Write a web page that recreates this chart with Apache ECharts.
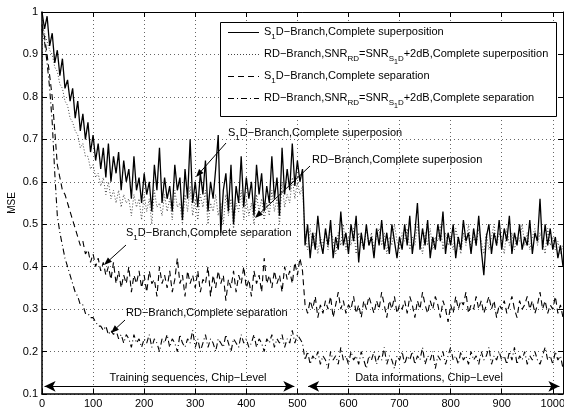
<!DOCTYPE html>
<html>
<head>
<meta charset="UTF-8" />
<title>MSE</title>
<style>
* { margin: 0; padding: 0; }
html, body { background: #fff; }
#main { width: 564px; height: 411px; }
</style>
</head>
<body>
<div id="main"></div>
<script src="https://cdn.jsdelivr.net/npm/echarts@6/dist/echarts.min.js"></script>
<script>
// one sample every 5 chips
const xStep = 5

// S1D-Branch, complete superposition (solid)
const s1dSuper = [
  1.00, 0.96, 0.99, 0.92, 0.95, 0.88, 0.91, 0.85, 0.89, 0.82,
  0.84, 0.79, 0.82, 0.75, 0.79, 0.72, 0.76, 0.70, 0.74, 0.67,
  0.71, 0.65, 0.69, 0.63, 0.68, 0.61, 0.69, 0.60, 0.66, 0.62,
  0.67, 0.58, 0.65, 0.60, 0.63, 0.56, 0.66, 0.58, 0.61, 0.55,
  0.62, 0.57, 0.60, 0.53, 0.64, 0.58, 0.68, 0.55, 0.61, 0.56,
  0.59, 0.53, 0.64, 0.58, 0.61, 0.51, 0.63, 0.56, 0.70, 0.55,
  0.60, 0.54, 0.62, 0.57, 0.65, 0.53, 0.60, 0.56, 0.63, 0.71,
  0.48, 0.58, 0.62, 0.53, 0.64, 0.50, 0.59, 0.55, 0.66, 0.54,
  0.61, 0.56, 0.60, 0.52, 0.64, 0.57, 0.62, 0.53, 0.59, 0.55,
  0.66, 0.56, 0.61, 0.52, 0.68, 0.57, 0.63, 0.58, 0.69, 0.59,
  0.65, 0.60, 0.63, 0.45, 0.50, 0.42, 0.48, 0.44, 0.52, 0.46,
  0.43, 0.49, 0.45, 0.51, 0.42, 0.47, 0.44, 0.53, 0.45, 0.48,
  0.43, 0.50, 0.46, 0.52, 0.41, 0.48, 0.44, 0.50, 0.45, 0.47,
  0.42, 0.49, 0.45, 0.51, 0.44, 0.48, 0.43, 0.50, 0.46, 0.42,
  0.47, 0.44, 0.50, 0.45, 0.52, 0.43, 0.48, 0.55, 0.44, 0.49,
  0.45, 0.51, 0.42, 0.47, 0.44, 0.50, 0.46, 0.53, 0.43, 0.48,
  0.45, 0.50, 0.42, 0.47, 0.44, 0.51, 0.46, 0.48, 0.43, 0.49,
  0.45, 0.52, 0.44, 0.38, 0.47, 0.50, 0.43, 0.48, 0.45, 0.51,
  0.44, 0.49, 0.46, 0.52, 0.43, 0.48, 0.45, 0.50, 0.44, 0.47,
  0.45, 0.51, 0.43, 0.48, 0.46, 0.56, 0.44, 0.50, 0.45, 0.49,
  0.44, 0.47, 0.42, 0.45, 0.40
]

// RD-Branch, SNR_RD = SNR_S1D + 2dB, complete superposition (dotted)
const rdSuper = [
  0.97, 0.95, 0.93, 0.91, 0.90, 0.87, 0.86, 0.83, 0.82, 0.79,
  0.78, 0.75, 0.74, 0.72, 0.71, 0.68, 0.69, 0.66, 0.66, 0.63,
  0.64, 0.61, 0.62, 0.59, 0.61, 0.57, 0.60, 0.56, 0.58, 0.55,
  0.58, 0.54, 0.57, 0.55, 0.56, 0.52, 0.57, 0.54, 0.56, 0.51,
  0.57, 0.53, 0.56, 0.50, 0.58, 0.54, 0.55, 0.52, 0.57, 0.53,
  0.56, 0.51, 0.58, 0.54, 0.55, 0.50, 0.57, 0.53, 0.59, 0.52,
  0.56, 0.51, 0.57, 0.54, 0.58, 0.50, 0.55, 0.53, 0.57, 0.52,
  0.55, 0.50, 0.57, 0.52, 0.56, 0.49, 0.55, 0.53, 0.58, 0.51,
  0.56, 0.52, 0.55, 0.50, 0.57, 0.53, 0.56, 0.51, 0.55, 0.52,
  0.58, 0.53, 0.56, 0.50, 0.60, 0.54, 0.57, 0.55, 0.61, 0.56,
  0.60, 0.57, 0.59, 0.47, 0.44, 0.49, 0.45, 0.48, 0.43, 0.47,
  0.45, 0.48, 0.44, 0.49, 0.46, 0.43, 0.48, 0.45, 0.50, 0.44,
  0.47, 0.45, 0.49, 0.43, 0.48, 0.46, 0.44, 0.49, 0.45, 0.48,
  0.44, 0.47, 0.49, 0.45, 0.48, 0.43, 0.47, 0.45, 0.50, 0.46,
  0.44, 0.48, 0.46, 0.49, 0.44, 0.47, 0.45, 0.50, 0.46, 0.43,
  0.48, 0.45, 0.49, 0.44, 0.47, 0.46, 0.50, 0.44, 0.48, 0.45,
  0.47, 0.44, 0.49, 0.46, 0.43, 0.48, 0.45, 0.50, 0.44, 0.47,
  0.45, 0.49, 0.46, 0.43, 0.48, 0.44, 0.47, 0.50, 0.45, 0.48,
  0.46, 0.43, 0.49, 0.45, 0.48, 0.44, 0.47, 0.46, 0.50, 0.45,
  0.48, 0.44, 0.47, 0.49, 0.45, 0.48, 0.46, 0.43, 0.49, 0.45,
  0.47, 0.44, 0.46, 0.43, 0.45
]

// S1D-Branch, complete separation (dashed)
const s1dSep = [
  0.97, 0.94, 0.90, 0.85, 0.80, 0.72, 0.64, 0.61, 0.58, 0.57,
  0.55, 0.53, 0.51, 0.49, 0.47, 0.45, 0.46, 0.43, 0.44, 0.41,
  0.43, 0.40, 0.42, 0.39, 0.41, 0.38, 0.40, 0.37, 0.41, 0.36,
  0.39, 0.35, 0.38, 0.36, 0.40, 0.34, 0.38, 0.36, 0.39, 0.35,
  0.38, 0.34, 0.39, 0.36, 0.37, 0.33, 0.40, 0.36, 0.38, 0.35,
  0.39, 0.34, 0.37, 0.42, 0.36, 0.38, 0.33, 0.39, 0.36, 0.38,
  0.35, 0.39, 0.34, 0.37, 0.36, 0.40, 0.33, 0.38, 0.35, 0.39,
  0.36, 0.38, 0.32, 0.37, 0.35, 0.39, 0.34, 0.38, 0.36, 0.40,
  0.35, 0.37, 0.33, 0.39, 0.36, 0.38, 0.34, 0.42, 0.36, 0.38,
  0.35, 0.39, 0.36, 0.38, 0.34, 0.40, 0.37, 0.39, 0.36, 0.41,
  0.38, 0.42, 0.39, 0.31, 0.29, 0.32, 0.30, 0.33, 0.28, 0.31,
  0.29, 0.32, 0.30, 0.33, 0.28, 0.31, 0.34, 0.30, 0.32, 0.29,
  0.31, 0.30, 0.33, 0.29, 0.31, 0.28, 0.32, 0.30, 0.33, 0.31,
  0.29, 0.32, 0.30, 0.34, 0.31, 0.28, 0.32, 0.30, 0.33, 0.29,
  0.31, 0.30, 0.32, 0.29, 0.33, 0.31, 0.28, 0.32, 0.30, 0.34,
  0.31, 0.29, 0.32, 0.30, 0.33, 0.31, 0.28, 0.32, 0.30, 0.27,
  0.31, 0.29, 0.33, 0.30, 0.32, 0.31, 0.34, 0.29, 0.31, 0.30,
  0.33, 0.30, 0.32, 0.29, 0.31, 0.33, 0.30, 0.32, 0.28, 0.31,
  0.30, 0.32, 0.29, 0.31, 0.33, 0.30, 0.28, 0.32, 0.30, 0.31,
  0.33, 0.30, 0.32, 0.29, 0.31, 0.34, 0.30, 0.32, 0.29, 0.31,
  0.30, 0.33, 0.29, 0.31, 0.28
]

// RD-Branch, SNR_RD = SNR_S1D + 2dB, complete separation (dash-dot)
const rdSep = [
  0.96, 0.93, 0.88, 0.82, 0.74, 0.62, 0.52, 0.48, 0.45, 0.42,
  0.40, 0.38, 0.36, 0.34, 0.33, 0.31, 0.31, 0.29, 0.29, 0.28,
  0.28, 0.27, 0.26, 0.26, 0.25, 0.26, 0.24, 0.25, 0.24, 0.25,
  0.23, 0.24, 0.22, 0.24, 0.23, 0.21, 0.24, 0.22, 0.23, 0.21,
  0.23, 0.22, 0.24, 0.21, 0.23, 0.22, 0.20, 0.23, 0.22, 0.24,
  0.21, 0.23, 0.22, 0.20, 0.24, 0.22, 0.21, 0.23, 0.22, 0.25,
  0.21, 0.23, 0.20, 0.22, 0.24, 0.21, 0.23, 0.22, 0.20, 0.23,
  0.22, 0.21, 0.24, 0.22, 0.20, 0.23, 0.22, 0.21, 0.24, 0.22,
  0.23, 0.21, 0.22, 0.24, 0.21, 0.23, 0.22, 0.20, 0.23, 0.22,
  0.24, 0.21, 0.23, 0.22, 0.24, 0.21, 0.23, 0.22, 0.25, 0.22,
  0.24, 0.23, 0.22, 0.18, 0.20, 0.17, 0.19, 0.18, 0.20, 0.17,
  0.19, 0.18, 0.16, 0.20, 0.18, 0.19, 0.17, 0.21, 0.18, 0.19,
  0.17, 0.20, 0.18, 0.19, 0.17, 0.20, 0.18, 0.16, 0.19, 0.18,
  0.20, 0.17, 0.19, 0.18, 0.21, 0.17, 0.19, 0.18, 0.16, 0.19,
  0.18, 0.20, 0.17, 0.19, 0.18, 0.20, 0.17, 0.19, 0.18, 0.21,
  0.17, 0.19, 0.18, 0.20, 0.16, 0.19, 0.18, 0.20, 0.17, 0.19,
  0.21, 0.18, 0.19, 0.17, 0.20, 0.18, 0.19, 0.17, 0.20, 0.18,
  0.19, 0.17, 0.20, 0.18, 0.19, 0.21, 0.17, 0.19, 0.18, 0.20,
  0.18, 0.19, 0.17, 0.20, 0.18, 0.21, 0.17, 0.19, 0.18, 0.20,
  0.17, 0.19, 0.18, 0.20, 0.18, 0.17, 0.19, 0.21, 0.18, 0.19,
  0.17, 0.20, 0.18, 0.19, 0.16
]

const xMax = 1020
const xTicks = 100
const yMin = 0.1, yMax = 1, yTicks = 0.1

const legendNames = [
  '{n|S}{s|1}{n|D\u2212Branch,Complete superposition}',
  '{n|RD\u2212Branch,SNR}{s|RD}{n|=SNR}{s|S}{ss|1}{s|D}{n|+2dB,Complete superposition}',
  '{n|S}{s|1}{n|D\u2212Branch,Complete separation}',
  '{n|RD\u2212Branch,SNR}{s|RD}{n|=SNR}{s|S}{ss|1}{s|D}{n|+2dB,Complete separation}'
]

const FONT = '"Liberation Sans", Arial, Helvetica, sans-serif'

const rich = {
  n: { fontSize: 11, fontFamily: FONT, color: '#000', verticalAlign: 'top' },
  s: { fontSize: 8, fontFamily: FONT, color: '#000', verticalAlign: 'top', padding: [6, 0, 0, 0] },
  ss: { fontSize: 7, fontFamily: FONT, color: '#000', verticalAlign: 'top', padding: [10, 0, 0, 0] }
}

function pairs(arr) {
  return arr.map((v, i) => [i * xStep, v])
}

// rich text whose normal-size letters are centred on cy
function label(txt, x, cy) {
  return { type: 'text', z: 100, style: { text: txt, rich: rich, x: x, y: cy - 5.5, verticalAlign: 'top', align: 'left' } }
}

// pointer line with a small filled head at (x2, y2)
function pointer(x1, y1, x2, y2) {
  let a = Math.atan2(y2 - y1, x2 - x1)
  let L = 8, W = 3
  let bx = x2 - L * Math.cos(a), by = y2 - L * Math.sin(a)
  return [
    { type: 'line', z: 100, shape: { x1: x1, y1: y1, x2: bx, y2: by }, style: { stroke: '#000', lineWidth: 1 } },
    { type: 'polygon', z: 100, shape: { points: [[x2, y2], [bx + W * Math.sin(a), by - W * Math.cos(a)], [bx - W * Math.sin(a), by + W * Math.cos(a)]] }, style: { fill: '#000' } }
  ]
}

const dashes = [null, [1, 2], [6, 4], [6, 3, 1, 3]]
const colors = ['#000', '#444', '#000', '#000']

let legendEls = [
  { type: 'rect', z: 100, shape: { x: 220.5, y: 22.5, width: 336, height: 94 }, style: { fill: '#fff', stroke: '#000', lineWidth: 1 } }
]
let rowsY = [32, 54, 76, 98]
for (let i = 0; i < 4; i++) {
  legendEls.push({ type: 'line', z: 101, shape: { x1: 228, y1: rowsY[i] + 0.5, x2: 259, y2: rowsY[i] + 0.5 },
    style: { stroke: colors[i], lineWidth: 1, lineDash: dashes[i] } })
  let t = label(legendNames[i], 264, rowsY[i])
  t.z = 101
  legendEls.push(t)
}

let notes = [
  label('{n|S}{s|1}{n|D\u2212Branch,Complete superposion}', 228, 133),
  label('{n|RD\u2212Branch,Complete superposion}', 312, 160),
  label('{n|S}{s|1}{n|D\u2212Branch,Complete separation}', 126, 233),
  label('{n|RD\u2212Branch,Complete separation}', 126, 313),
  { type: 'text', z: 100, style: { text: 'Training sequences, Chip\u2212Level', x: 188, y: 378, align: 'center', verticalAlign: 'middle', font: '11px ' + FONT, fill: '#000' } },
  { type: 'text', z: 100, style: { text: 'Data informations, Chip\u2212Level', x: 429, y: 378, align: 'center', verticalAlign: 'middle', font: '11px ' + FONT, fill: '#000' } }
]
  .concat(pointer(226, 143, 196, 177))
  .concat(pointer(310, 166, 255, 218))
  .concat(pointer(126, 245, 104, 265))
  .concat(pointer(125, 320, 111, 333))

let chart = echarts.init(document.getElementById('main'), null, { renderer: 'canvas' })

let axisBase = {
  type: 'value',
  axisLine: { show: true, onZero: false, lineStyle: { color: '#000', width: 1 } },
  axisTick: { show: true, inside: true, length: 5, lineStyle: { color: '#000' } },
  splitLine: { show: false }
}

let option = {
  animation: false,
  backgroundColor: '#fff',
  grid: { left: 42, right: 1, top: 12, bottom: 17, outerBoundsMode: 'none', containLabel: false },
  xAxis: [
    Object.assign({}, axisBase, {
      position: 'bottom', min: 0, max: xMax, interval: xTicks,
      axisLine: { show: true, onZero: false, lineStyle: { color: '#000', width: 1.5 } },
      axisLabel: { show: true, showMaxLabel: false, margin: 4, color: '#000', fontSize: 11, fontFamily: FONT,
        formatter: v => (v % 100 === 0 ? String(v) : '') },
      splitLine: { show: true, lineStyle: { color: '#666', width: 1, type: [1, 3] } }
    }),
    Object.assign({}, axisBase, {
      position: 'top', min: 0, max: xMax, interval: xTicks, axisLabel: { show: false }
    })
  ],
  yAxis: [
    Object.assign({}, axisBase, {
      position: 'left', min: yMin, max: yMax, interval: yTicks,
      axisLine: { show: true, onZero: false, lineStyle: { color: '#000', width: 1.5 } },
      name: 'MSE', nameLocation: 'middle', nameGap: 25, nameMoveOverlap: false,
      nameTextStyle: { color: '#000', fontSize: 10, fontFamily: FONT },
      axisLabel: { show: true, margin: 4, color: '#000', fontSize: 11, fontFamily: FONT,
        formatter: v => (Math.abs(v - 1) < 1e-6 ? '1' : (Math.round(v * 10) / 10).toFixed(1)) },
      splitLine: { show: true, lineStyle: { color: '#666', width: 1, type: [1, 3] } }
    }),
    Object.assign({}, axisBase, {
      position: 'right', min: yMin, max: yMax, interval: yTicks, axisLabel: { show: false }
    })
  ],
  series: [
    {
      name: 'rdSuper', type: 'line', data: pairs(rdSuper), symbol: 'none', silent: true,
      lineStyle: { color: colors[1], width: 1, type: dashes[1] }
    },
    {
      name: 's1dSuper', type: 'line', data: pairs(s1dSuper), symbol: 'none', silent: true,
      lineStyle: { color: colors[0], width: 1.3 }
    },
    {
      name: 's1dSep', type: 'line', data: pairs(s1dSep), symbol: 'none', silent: true,
      lineStyle: { color: colors[2], width: 1.1, type: dashes[2] }
    },
    {
      name: 'rdSep', type: 'line', data: pairs(rdSep), symbol: 'none', silent: true,
      lineStyle: { color: colors[3], width: 1.1, type: dashes[3] },
      markLine: {
        silent: true, animation: false,
        symbol: ['arrow', 'arrow'], symbolSize: [8, 11],
        label: { show: false },
        lineStyle: { color: '#000', width: 1, type: 'solid' },
        data: [
          [{ coord: [5, 0.118] }, { coord: [494, 0.118] }],
          [{ coord: [521, 0.118] }, { coord: [1013, 0.118] }]
        ]
      }
    }
  ],
  graphic: notes.concat(legendEls)
}

chart.setOption(option)
</script>
</body>
</html>
